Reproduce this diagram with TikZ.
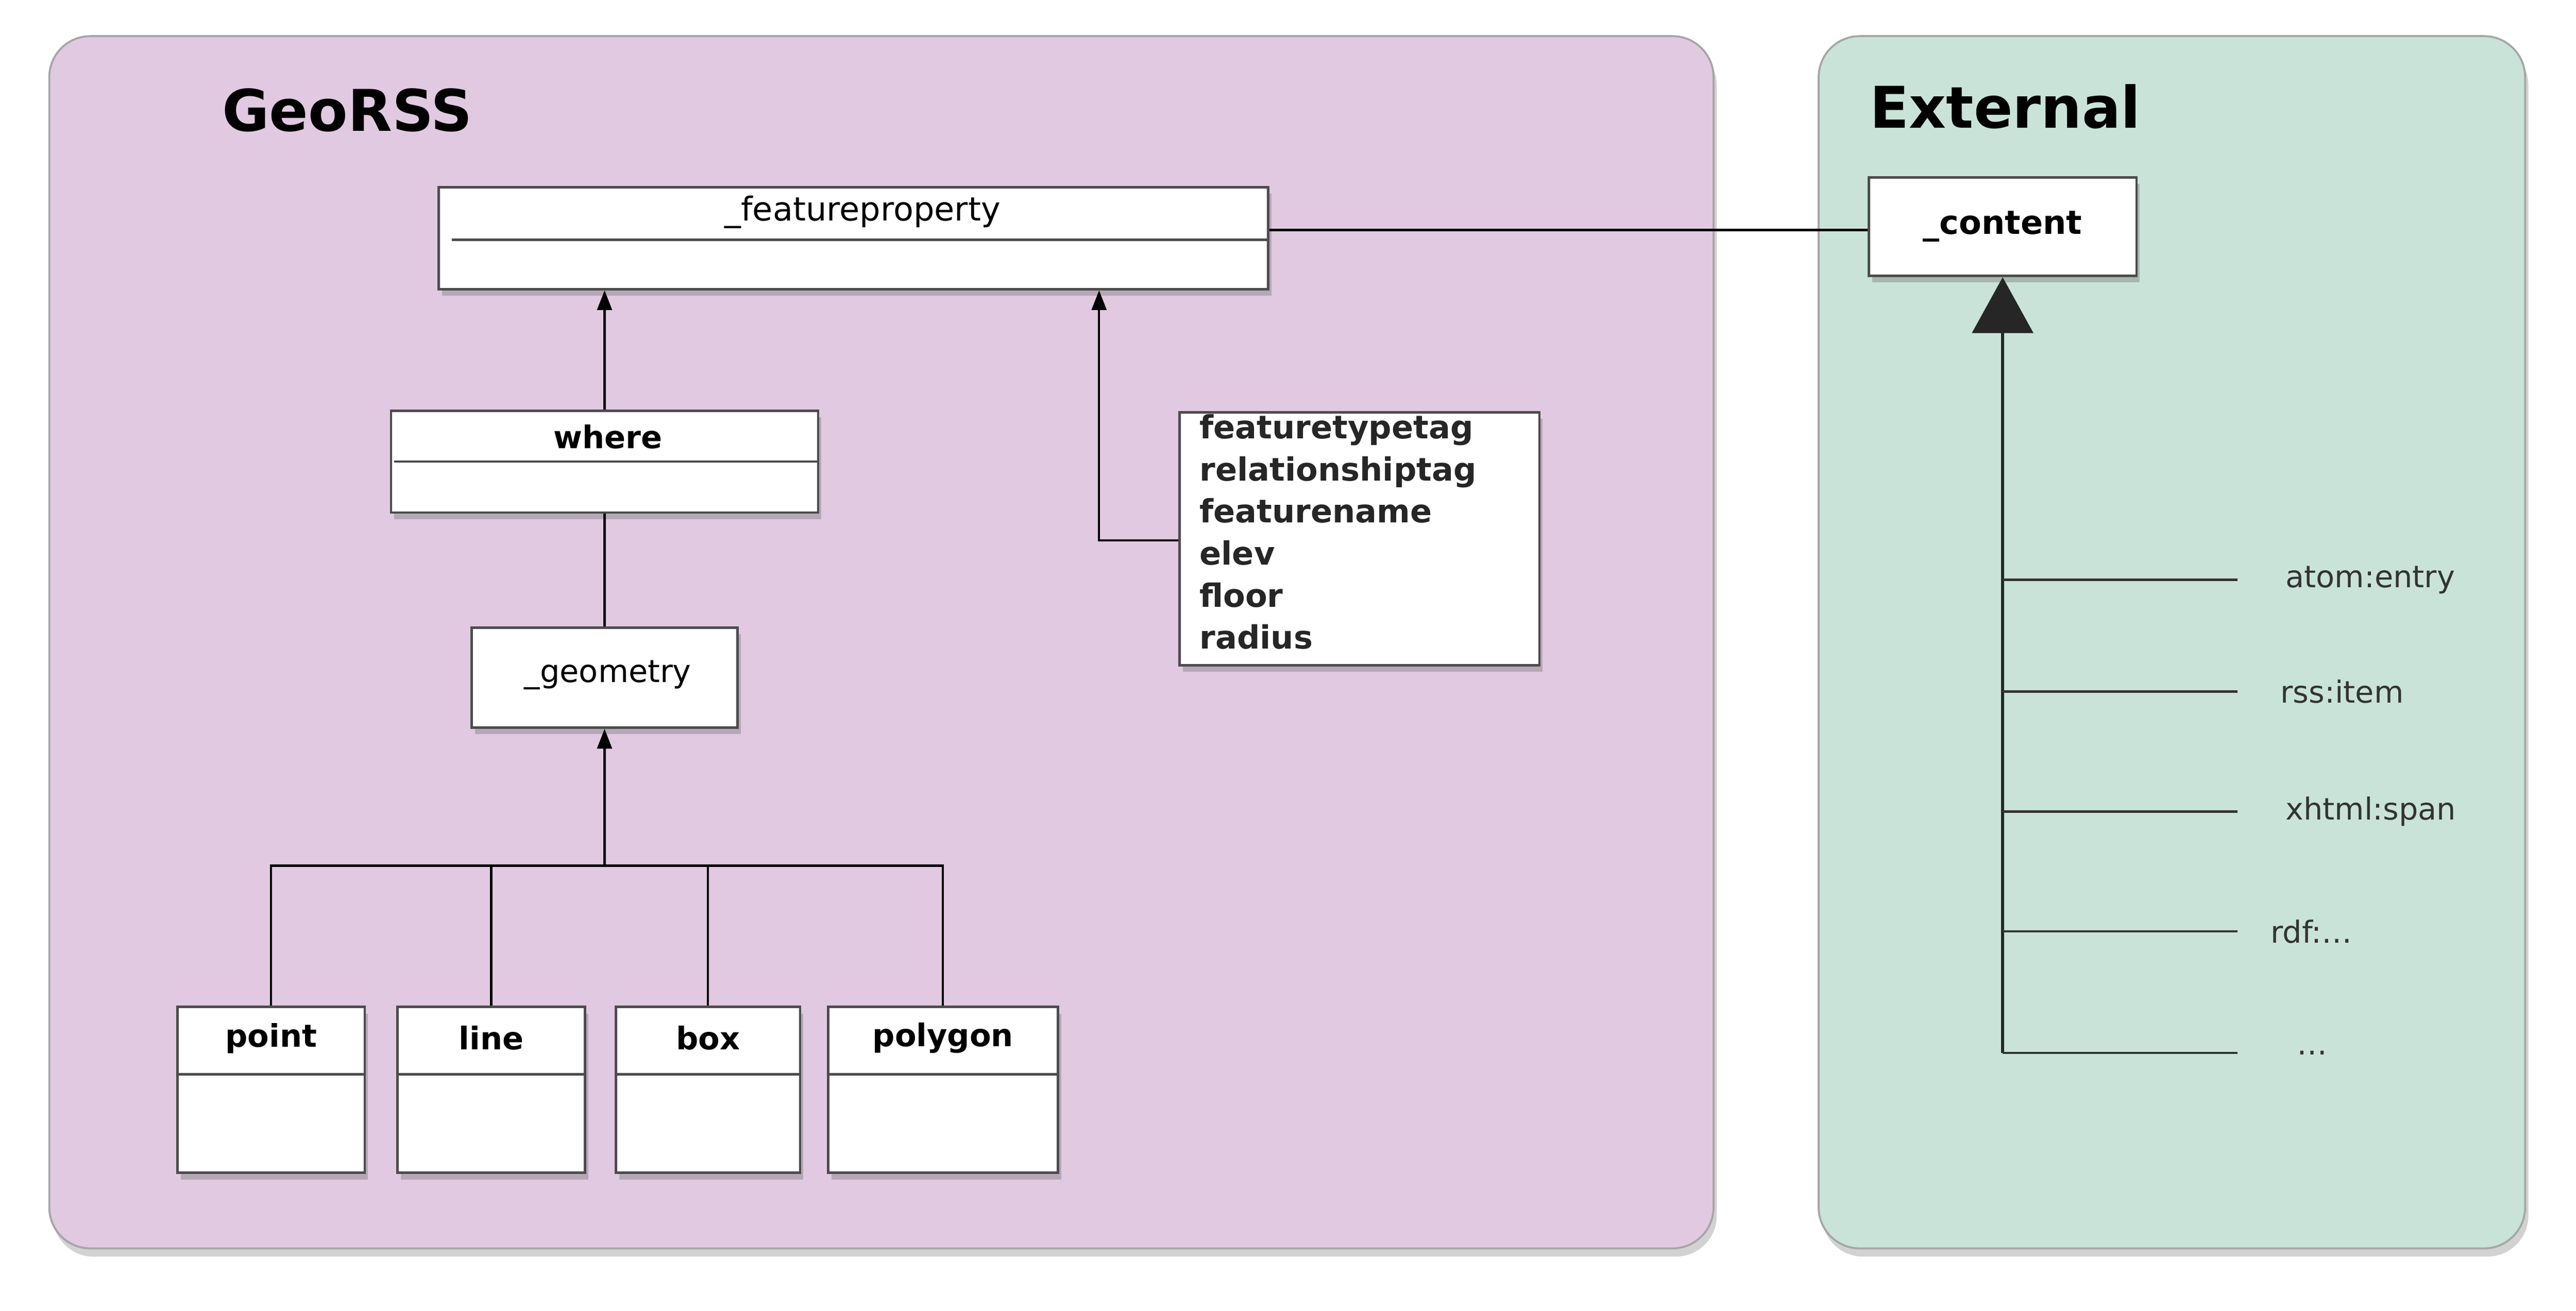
\documentclass[tikz,border=0pt]{standalone}
\usepackage{fontspec}
\setmainfont{DejaVu Sans}
\usetikzlibrary{arrows.meta,shadows}
\definecolor{geo}{HTML}{E1C9E1}
\definecolor{ext}{HTML}{C9E3D9}
\definecolor{lbl}{HTML}{333333}
\begin{document}
\begin{tikzpicture}[x=1pt,y=-1pt,
  panel/.style={draw=black!35,line width=1.2pt,rounded corners=25pt,drop shadow={shadow xshift=2pt,shadow yshift=-5pt,opacity=0.35}},
  box/.style={draw=black!70,line width=1.5pt,fill=white,inner sep=0pt,drop shadow={shadow xshift=2pt,shadow yshift=-4pt,opacity=0.45}},
  cls/.style={font=\fontsize{19}{22}\selectfont,inner sep=0pt},
  title/.style={font=\bfseries\fontsize{35}{42}\selectfont,inner sep=0pt},
  conn/.style={line width=1.3pt},
  tip/.style={-{Triangle[width=9pt,length=12pt]}},
  ext lbl/.style={font=\fontsize{18.5}{22}\selectfont,text=lbl,anchor=west,inner sep=0pt}]
\useasboundingbox (0,0) rectangle (1568,798);
\fill[white] (0,0) rectangle (1568,798);
% panels
\node[panel,fill=geo,minimum width=1013pt,minimum height=738pt] (geopanel) at (536.5,391) {};
\node[panel,fill=ext,minimum width=430pt,minimum height=738pt] (extpanel) at (1322,391) {};
\node[title,anchor=west] (geotitle) at (135,67) {GeoRSS};
\node[title,anchor=west] (exttitle) at (1138,65) {External};
% _featureproperty
\node[box,minimum width=505pt,minimum height=62pt] (fp) at (519.5,145) {};
\node[cls,font=\fontsize{20}{24}\selectfont] (fpt) at (525,129) {\_featureproperty};
\draw[black!70,line width=1.5pt] (275,146) -- (772,146);
% where
\node[box,minimum width=260pt,minimum height=62pt] (wh) at (368,281) {};
\node[cls,font=\bfseries\fontsize{19}{22}\selectfont] (wht) at (370,266) {where};
\draw[black!70,line width=1.5pt] (240,281) -- (498,281);
% _geometry
\node[box,minimum width=162pt,minimum height=61pt] (geom) at (368,412.5) {};
\node[cls] (geomt) at (370,411) {\_geometry};
% attribute list
\node[box,minimum width=219pt,minimum height=154pt] (attr) at (827.5,328) {};
\node[cls,font=\bfseries\fontsize{19.5}{25.6}\selectfont,align=left,anchor=north west,text=black!85] (attrt) at (730,252)
 {featuretypetag\\relationshiptag\\featurename\\elev\\floor\\radius};
% leaf boxes
\foreach \n/\t/\cx/\w in {pt/point/165/114, ln/line/299/114, bx/box/431/112, pg/polygon/574/140}{
  \node[box,minimum width=\w pt,minimum height=101pt] (\n) at (\cx,663.5) {};
  \node[cls,font=\bfseries\fontsize{19}{22}\selectfont] (\n t) at (\cx,632) {\t};
  \draw[black!70,line width=1.5pt] (\n.west |- 0,654) -- (\n.east |- 0,654);
}
% connectors GeoRSS
\draw[conn,tip] (wh.north) -- (wh.north |- fp.south);
\coordinate (bend) at (669,329);
\draw[conn,tip] (attr.west |- bend) -- (bend) -- (bend |- fp.south);
\draw[conn] (wh.south) -- (geom.north);
\coordinate (hub) at (368,527);
\draw[conn,tip] (hub) -- (geom.south);
\draw[conn] (pt.north) -- (pt.north |- hub) -- (pg.north |- hub) -- (pg.north);
\draw[conn] (ln.north |- hub) -- (ln.north);
\draw[conn] (bx.north |- hub) -- (bx.north);
% _content
\node[box,minimum width=163pt,minimum height=60pt,font=\bfseries\fontsize{20}{24}\selectfont] (ct) at (1219,138) {\_content};
\draw[conn] (fp.east |- 0,140) -- (ct.west |- 0,140);
% external branches
\coordinate (trunk) at (1219,641);
\draw[line width=2pt,black!85,-{Triangle[width=37pt,length=34pt]}] (trunk) -- (ct.south);
\foreach \nm/\y/\t/\lx in {ae/353/atom:entry/1391, ri/421/rss:item/1388, xs/494/xhtml:span/1391, rd/567/rdf:\dots/1382, dd/641/\dots/1398}{
  \node[ext lbl] (\nm) at (\lx,\y) {\t};
  \coordinate (\nm e) at (1362,\y);
  \draw[line width=1.4pt,black!80] (trunk |- \nm e) -- (\nm e);
}
\end{tikzpicture}
\end{document}
